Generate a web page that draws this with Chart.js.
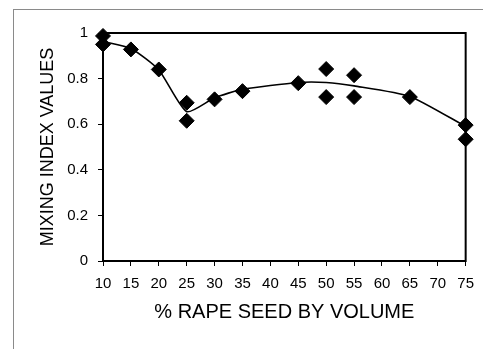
<!DOCTYPE html>
<html lang="en">
<head>
    <meta charset="UTF-8">
    <title>Mixing index</title>
    <script src="https://cdn.jsdelivr.net/npm/chart.js"></script>
    <style>
        body { margin: 0; background: #fff; }
        #frame { position: absolute; left: 13px; top: 9px; width: 600px; height: 500px; border-left: 1px solid #8a8a8a; border-top: 1px solid #8a8a8a; }
        #myChart { position: absolute; left: 0; top: 0; }
    </style>
</head>
<body>
    <div id="frame"></div>
    <canvas id="myChart" width="483" height="349"></canvas>

    <script>
        // measured points (% rape seed, mixing index)
        const seedPct = [10, 10, 15, 20, 25, 25, 30, 35, 45, 50, 50, 55, 55, 65, 75, 75];
        const mixIndex = [0.987, 0.950, 0.928, 0.840, 0.694, 0.615, 0.709, 0.745, 0.780, 0.842, 0.719, 0.815, 0.719, 0.719, 0.596, 0.534];

        // fitted curve
        const curvePct = [10, 15, 20, 25, 30, 35, 45, 50, 55, 65, 75];
        const curveVal = [0.963, 0.932, 0.838, 0.655, 0.716, 0.753, 0.783, 0.783, 0.768, 0.722, 0.590];

        const toXY = (xs, ys) => xs.map((x, i) => ({ x: x, y: ys[i] }));

        // box round the plot area
        const plotBox = {
            id: 'plotBox',
            afterDraw(chart) {
                const a = chart.chartArea;
                const c = chart.ctx;
                c.save();
                c.strokeStyle = '#000';
                c.lineWidth = 2;
                c.strokeRect(a.left, a.top, a.right - a.left, a.bottom - a.top);
                c.restore();
            }
        };

        const ctx = document.getElementById('myChart').getContext('2d');
        new Chart(ctx, {
            type: 'scatter',
            data: {
                datasets: [{
                    data: toXY(seedPct, mixIndex),
                    pointStyle: 'rectRot',
                    pointRadius: 7.5,
                    pointBackgroundColor: '#000',
                    pointBorderColor: '#000',
                    pointBorderWidth: 1,
                    clip: false,
                    order: 1
                }, {
                    type: 'line',
                    data: toXY(curvePct, curveVal),
                    borderColor: '#000',
                    borderWidth: 1.6,
                    pointRadius: 0,
                    tension: 0.2,
                    fill: false,
                    order: 2
                }]
            },
            options: {
                responsive: false,
                animation: false,
                layout: { padding: { left: 0, top: 33, right: 16, bottom: 0 } },
                plugins: { legend: { display: false }, tooltip: { enabled: false } },
                scales: {
                    x: {
                        type: 'linear',
                        min: 10,
                        max: 75,
                        afterFit: s => { s.height = 88; },
                        ticks: { stepSize: 5, color: '#000', padding: 9, maxRotation: 0, font: { family: 'Liberation Sans, Arial', size: 15 } },
                        grid: { drawOnChartArea: false, tickLength: 5, tickColor: '#000', tickWidth: 1 },
                        border: { color: '#000', width: 2 },
                        title: { display: true, text: '% RAPE SEED BY VOLUME', color: '#000', padding: { top: 0, bottom: 25 }, font: { family: 'Liberation Sans, Arial', size: 20 } }
                    },
                    y: {
                        min: 0,
                        max: 1,
                        afterFit: s => { s.width = 103; },
                        ticks: {
                            stepSize: 0.2, color: '#000', padding: 10,
                            font: { family: 'Liberation Sans, Arial', size: 15 },
                            callback: v => String(Math.round(v * 10) / 10)
                        },
                        grid: { drawOnChartArea: false, tickLength: 5, tickColor: '#000', tickWidth: 1 },
                        border: { color: '#000', width: 2 },
                        title: { display: true, text: 'MIXING INDEX VALUES', color: '#000', padding: { top: 37, bottom: 0 }, font: { family: 'Liberation Sans, Arial', size: 18 } }
                    }
                }
            },
            plugins: [plotBox]
        });
    </script>
</body>
</html>
